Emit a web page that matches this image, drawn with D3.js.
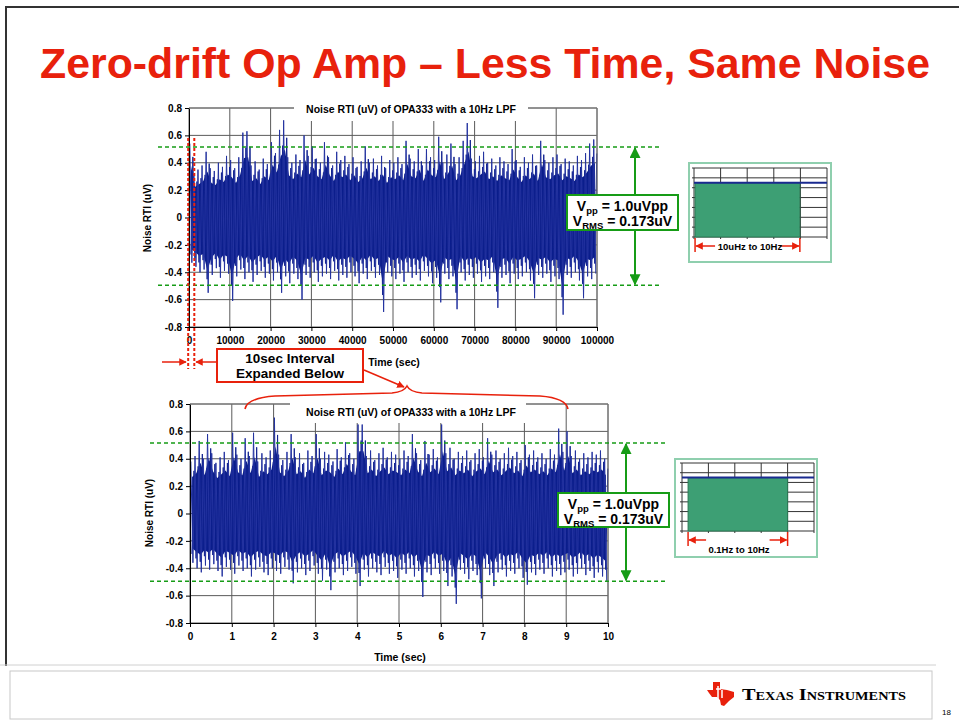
<!DOCTYPE html>
<html>
<head>
<meta charset="utf-8">
<script src="https://cdn.jsdelivr.net/npm/d3@7"></script>
<style>
  body { margin: 0; background: #fff; }
  svg { display: block; font-family: Arial, "Liberation Sans", sans-serif; }
</style>
</head>
<body>
<svg id="slide" width="959" height="723"></svg>
<script>
// ---- data ----
const yTicks = [-0.8, -0.6, -0.4, -0.2, 0, 0.2, 0.4, 0.6, 0.8];
const longTicks = [0, 10000, 20000, 30000, 40000, 50000, 60000, 70000, 80000, 90000, 100000];
const shortTicks = [0, 1, 2, 3, 4, 5, 6, 7, 8, 9, 10];

// 100 bins of 1000 s : upper / lower peak per bin (uV)
const longHi = [0.54,0.32,0.35,0.38,0.48,0.36,0.34,0.40,0.37,0.45,
  0.42,0.36,0.44,0.62,0.63,0.38,0.41,0.35,0.43,0.39,
  0.55,0.47,0.64,0.71,0.44,0.40,0.46,0.42,0.60,0.45,
  0.52,0.43,0.40,0.55,0.44,0.38,0.48,0.42,0.45,0.39,
  0.44,0.37,0.41,0.52,0.40,0.43,0.38,0.45,0.36,0.42,
  0.40,0.44,0.39,0.56,0.43,0.41,0.50,0.38,0.50,0.44,
  0.42,0.59,0.40,0.46,0.54,0.39,0.44,0.56,0.69,0.43,
  0.41,0.45,0.48,0.40,0.43,0.38,0.44,0.41,0.39,0.50,
  0.42,0.37,0.44,0.40,0.46,0.38,0.56,0.42,0.40,0.44,
  0.46,0.39,0.43,0.41,0.38,0.45,0.42,0.47,0.54,0.57];
const longLo = [-0.33,-0.36,-0.40,-0.38,-0.55,-0.42,-0.37,-0.44,-0.39,-0.41,
  -0.61,-0.43,-0.38,-0.45,-0.40,-0.47,-0.42,-0.39,-0.44,-0.41,
  -0.46,-0.40,-0.55,-0.43,-0.48,-0.41,-0.45,-0.60,-0.42,-0.44,
  -0.40,-0.47,-0.43,-0.41,-0.45,-0.39,-0.46,-0.42,-0.44,-0.40,
  -0.43,-0.48,-0.41,-0.45,-0.39,-0.44,-0.42,-0.69,-0.40,-0.43,
  -0.45,-0.41,-0.47,-0.40,-0.44,-0.42,-0.46,-0.39,-0.43,-0.48,
  -0.44,-0.62,-0.41,-0.45,-0.43,-0.67,-0.40,-0.46,-0.42,-0.44,
  -0.41,-0.47,-0.43,-0.45,-0.40,-0.66,-0.44,-0.42,-0.48,-0.41,
  -0.45,-0.43,-0.40,-0.46,-0.59,-0.42,-0.44,-0.41,-0.47,-0.43,
  -0.45,-0.71,-0.42,-0.44,-0.40,-0.46,-0.59,-0.43,-0.45,-0.41];

// 100 bins of 0.1 s
const shortHi = [0.38,0.42,0.53,0.40,0.58,0.44,0.37,0.41,0.45,0.39,
  0.59,0.43,0.40,0.55,0.42,0.59,0.38,0.44,0.41,0.46,
  0.70,0.43,0.39,0.45,0.58,0.41,0.44,0.37,0.46,0.42,
  0.58,0.40,0.45,0.43,0.38,0.47,0.41,0.52,0.44,0.40,
  0.65,0.65,0.42,0.46,0.39,0.44,0.48,0.41,0.45,0.43,
  0.40,0.46,0.42,0.58,0.44,0.39,0.53,0.43,0.47,0.41,
  0.65,0.44,0.48,0.40,0.45,0.42,0.46,0.39,0.44,0.47,
  0.41,0.55,0.43,0.46,0.40,0.44,0.48,0.42,0.45,0.39,
  0.50,0.43,0.46,0.41,0.44,0.40,0.47,0.43,0.62,0.45,
  0.60,0.42,0.46,0.40,0.44,0.41,0.45,0.43,0.46,0.40];
const shortLo = [-0.36,-0.40,-0.43,-0.38,-0.41,-0.37,-0.42,-0.46,-0.39,-0.41,
  -0.44,-0.38,-0.42,-0.40,-0.46,-0.41,-0.39,-0.43,-0.45,-0.40,
  -0.42,-0.44,-0.39,-0.41,-0.51,-0.43,-0.40,-0.45,-0.42,-0.38,
  -0.44,-0.49,-0.41,-0.56,-0.43,-0.40,-0.45,-0.42,-0.39,-0.44,
  -0.53,-0.41,-0.46,-0.40,-0.43,-0.45,-0.39,-0.44,-0.42,-0.47,
  -0.41,-0.44,-0.40,-0.46,-0.42,-0.61,-0.43,-0.45,-0.40,-0.44,
  -0.42,-0.53,-0.46,-0.66,-0.41,-0.44,-0.48,-0.42,-0.45,-0.62,
  -0.40,-0.45,-0.53,-0.43,-0.41,-0.46,-0.42,-0.44,-0.40,-0.47,
  -0.52,-0.43,-0.45,-0.41,-0.44,-0.40,-0.46,-0.42,-0.45,-0.43,
  -0.41,-0.46,-0.44,-0.40,-0.45,-0.42,-0.47,-0.43,-0.46,-0.50];

const vppLines = [0.515, -0.495];       // green dashed peak-to-peak markers
const intervalMarks = [-200, 1300];     // dotted "10 sec" window on the long record (drawn widened)
const insetCols = [0, 1, 2, 3, 4, 5];
const insetRows = [0, 1, 2, 3, 4, 5, 6, 7];
const insetFlat = 5.5;                  // flat noise density level
const insetBandTop = [0.04, 3.98];      // 10uHz to 10Hz
const insetBandBottom = [0.23, 4.0];    // 0.1Hz to 10Hz

const RED = "#e8210c", GREEN = "#169c16", NAVY = "#0a1d8c";

const svg = d3.select("#slide");
const defs = svg.append("defs");
function marker(id, color, size) {
  defs.append("marker").attr("id", id)
    .attr("viewBox", "0 0 10 10").attr("refX", 9).attr("refY", 5)
    .attr("markerWidth", size).attr("markerHeight", size).attr("orient", "auto-start-reverse")
    .attr("markerUnits", "strokeWidth")
    .append("path").attr("d", "M0,0L10,5L0,10Z").attr("fill", color);
}
marker("ag", GREEN, 5.5);
marker("ar", RED, 5);

// slide frame
svg.append("path").attr("d", "M6,666V7H959").attr("fill", "none").attr("stroke", "#333").attr("stroke-width", 2);
svg.append("line").attr("x1", 0).attr("x2", 936).attr("y1", 665).attr("y2", 665).attr("stroke", "#d0d0d0");
svg.append("rect").attr("x", 10).attr("y", 671).attr("width", 922).attr("height", 48)
  .attr("fill", "none").attr("stroke", "#c8c8c8");

// title
svg.append("text").attr("x", 40).attr("y", 78)
  .attr("textLength", 890).attr("lengthAdjust", "spacingAndGlyphs")
  .attr("font-size", 42).attr("font-weight", "bold").attr("fill", RED)
  .text("Zero-drift Op Amp \u2013 Less Time, Same Noise");

function panel(o) {
  const x = d3.scaleLinear().domain(o.domain).range([o.x0, o.x1]);
  const y = d3.scaleLinear().domain([-0.8, 0.8]).range([o.y1, o.y0]);
  const g = svg.append("g");

  // grid
  g.append("g").selectAll("line").data(o.ticks).join("line")
    .attr("x1", d => x(d)).attr("x2", d => x(d)).attr("y1", o.y0).attr("y2", o.y1)
    .attr("stroke", "#5a5a5a");
  g.append("g").selectAll("line").data(yTicks).join("line")
    .attr("x1", o.x0).attr("x2", o.x1).attr("y1", d => y(d)).attr("y2", d => y(d))
    .attr("stroke", "#5a5a5a");

  // noise trace
  const n = o.hi.length, w = (o.domain[1] - o.domain[0]) / n;
  const core = o.hi.map((h, i) => ({ t: o.domain[0] + (i + 0.5) * w, h: h * 0.7, l: o.lo[i] * 0.7 }));
  g.append("path").datum(core)
    .attr("d", d3.area().x(d => x(d.t)).y0(d => y(d.l)).y1(d => y(d.h)))
    .attr("fill", NAVY);
  const pts = [], pts2 = [];
  o.hi.forEach((h, i) => {
    pts.push([o.domain[0] + (i + 0.2) * w, h]);
    pts.push([o.domain[0] + (i + 0.7) * w, o.lo[i]]);
    pts2.push([o.domain[0] + (i + 0.45) * w, o.lo[i] * 0.82]);
    pts2.push([o.domain[0] + (i + 0.95) * w, h * 0.82]);
  });
  const line = d3.line().x(d => x(d[0])).y(d => y(d[1]));
  g.append("path").datum(pts2).attr("d", line)
    .attr("fill", "none").attr("stroke", "#12238f").attr("stroke-width", 1);
  g.append("path").datum(pts).attr("d", line)
    .attr("fill", "none").attr("stroke", "#2433a0").attr("stroke-width", 1);

  // axes
  const fmt = d => d === 0 ? "0" : d3.format(".1f")(d).replace("\u2212", "-");
  const ya = g.append("g").attr("transform", `translate(${o.x0},0)`)
    .call(d3.axisLeft(y).tickValues(yTicks).tickFormat(fmt).tickSize(4).tickSizeOuter(0));
  const xa = g.append("g").attr("transform", `translate(0,${o.y1})`)
    .call(d3.axisBottom(x).tickValues(o.ticks).tickFormat(d => d).tickSize(4).tickSizeOuter(0).tickPadding(6));
  [ya, xa].forEach(a => {
    a.selectAll("text").attr("font-size", 10).attr("font-weight", "bold").attr("fill", "#000")
      .attr("font-family", "Arial, 'Liberation Sans', sans-serif");
    a.select(".domain").attr("stroke", "#000");
    a.selectAll(".tick line").attr("stroke", "#000");
  });
  g.append("line").attr("x1", o.x0).attr("x2", o.x1).attr("y1", o.y0).attr("y2", o.y0).attr("stroke", "#777");
  g.append("line").attr("x1", o.x1).attr("x2", o.x1).attr("y1", o.y0).attr("y2", o.y1).attr("stroke", "#777");

  // chart title
  g.append("rect").attr("x", o.tb[0]).attr("y", o.tb[1]).attr("width", o.tb[2]).attr("height", o.tb[3]).attr("fill", "#fff");
  g.append("text").attr("x", o.tc[0]).attr("y", o.tc[1]).attr("text-anchor", "middle")
    .attr("font-size", 10.5).attr("font-weight", "bold").text("Noise RTI (uV) of OPA333 with a 10Hz LPF");
  g.append("text").attr("transform", `translate(${o.yl[0]},${o.yl[1]}) rotate(-90)`)
    .attr("text-anchor", "middle").attr("font-size", 10).attr("font-weight", "bold").text("Noise RTI (uV)");
  g.append("text").attr("x", o.xl[0]).attr("y", o.xl[1]).attr("text-anchor", "middle")
    .attr("font-size", 10.5).attr("font-weight", "bold").text("Time (sec)");

  // peak-to-peak markers
  g.append("g").selectAll("line").data(vppLines).join("line")
    .attr("x1", o.dash[0]).attr("x2", o.dash[1]).attr("y1", d => y(d)).attr("y2", d => y(d))
    .attr("stroke", GREEN).attr("stroke-width", 1.6).attr("stroke-dasharray", "4,3");
  g.append("line").attr("x1", o.arrowX).attr("x2", o.arrowX)
    .attr("y1", y(vppLines[0]) + 1).attr("y2", y(vppLines[1]) - 1)
    .attr("stroke", GREEN).attr("stroke-width", 2)
    .attr("marker-start", "url(#ag)").attr("marker-end", "url(#ag)");
  const b = o.box;
  g.append("rect").attr("x", b[0]).attr("y", b[1]).attr("width", b[2]).attr("height", b[3])
    .attr("fill", "#fff").attr("stroke", GREEN).attr("stroke-width", 2);
  const cx = b[0] + b[2] / 2;
  const t1 = g.append("text").attr("x", cx).attr("y", b[1] + 16).attr("text-anchor", "middle")
    .attr("font-size", 14).attr("font-weight", "bold");
  t1.append("tspan").text("V");
  t1.append("tspan").attr("font-size", 9.5).attr("dy", 3).text("pp");
  t1.append("tspan").attr("dy", -3).text(" = 1.0uVpp");
  const t2 = g.append("text").attr("x", cx).attr("y", b[1] + 31).attr("text-anchor", "middle")
    .attr("font-size", 14).attr("font-weight", "bold");
  t2.append("tspan").text("V");
  t2.append("tspan").attr("font-size", 9.5).attr("dy", 3).text("RMS");
  t2.append("tspan").attr("dy", -3).text(" = 0.173uV");
  return { x, y };
}

const topPanel = panel({
  domain: [0, 100000], ticks: longTicks, hi: longHi, lo: longLo,
  x0: 189, x1: 597, y0: 108, y1: 327,
  tb: [294, 99, 234, 22], tc: [411, 113], yl: [151, 218], xl: [394, 366],
  dash: [158, 660], arrowX: 635, box: [567, 195, 111, 35]
});
const botPanel = panel({
  domain: [0, 10], ticks: shortTicks, hi: shortHi, lo: shortLo,
  x0: 190, x1: 608, y0: 404, y1: 623,
  tb: [290, 396, 236, 27], tc: [411, 416], yl: [153, 513], xl: [400, 661],
  dash: [150, 668], arrowX: 626, box: [558, 493, 111, 34]
});

// noise density insets
function inset(o) {
  const g = svg.append("g");
  g.append("rect").attr("x", o.frame[0]).attr("y", o.frame[1]).attr("width", o.frame[2]).attr("height", o.frame[3])
    .attr("fill", "#fff").attr("stroke", "#8fcfae").attr("stroke-width", 2);
  const x = d3.scaleLinear().domain([0, 5]).range([o.gx0, o.gx1]);
  const y = d3.scaleLinear().domain([0, 7]).range([o.gy1, o.gy0]);
  g.append("g").selectAll("line").data(insetCols).join("line")
    .attr("x1", d => x(d)).attr("x2", d => x(d)).attr("y1", o.gy0).attr("y2", o.gy1 + 2).attr("stroke", "#333");
  g.append("g").selectAll("line").data(insetRows).join("line")
    .attr("x1", x(0) - 2).attr("x2", x(5)).attr("y1", d => y(d)).attr("y2", d => y(d)).attr("stroke", "#333");
  g.append("rect").attr("x", x(o.band[0])).attr("y", y(insetFlat))
    .attr("width", x(o.band[1]) - x(o.band[0])).attr("height", y(0) - y(insetFlat))
    .attr("fill", "#3d9f74").attr("stroke", "#2a7a55");
  g.append("line").attr("x1", x(0)).attr("x2", x(5)).attr("y1", y(insetFlat)).attr("y2", y(insetFlat))
    .attr("stroke", "#1a2a90").attr("stroke-width", 2);
  const xl = x(o.band[0]), xr = x(o.band[1]), ly = o.labelY;
  g.append("g").selectAll("line").data([xl, xr]).join("line")
    .attr("x1", d => d).attr("x2", d => d).attr("y1", y(0) + 1).attr("y2", ly + 6)
    .attr("stroke", RED).attr("stroke-width", 1.5);
  g.append("line").attr("x1", xl + o.arrowLen).attr("x2", xl + 1).attr("y1", ly).attr("y2", ly)
    .attr("stroke", RED).attr("stroke-width", 1.5).attr("marker-end", "url(#ar)");
  g.append("line").attr("x1", xr - o.arrowLen).attr("x2", xr - 1).attr("y1", ly).attr("y2", ly)
    .attr("stroke", RED).attr("stroke-width", 1.5).attr("marker-end", "url(#ar)");
  g.append("text").attr("x", o.textX).attr("y", o.textY).attr("text-anchor", "middle")
    .attr("font-size", 9.5).attr("font-weight", "bold").text(o.label);
}
inset({ frame: [689, 163, 142, 99], gx0: 694, gx1: 827, gy0: 168, gy1: 237,
  band: insetBandTop, labelY: 246, textX: 750, textY: 250, arrowLen: 20, label: "10uHz to 10Hz" });
inset({ frame: [675, 459, 142, 98], gx0: 682, gx1: 814, gy0: 463, gy1: 531,
  band: insetBandBottom, labelY: 540, textX: 739, textY: 553, arrowLen: 18, label: "0.1Hz to 10Hz" });

// 10 s interval annotation
svg.append("g").selectAll("line").data(intervalMarks).join("line")
  .attr("x1", d => topPanel.x(d)).attr("x2", d => topPanel.x(d))
  .attr("y1", 138).attr("y2", 369)
  .attr("stroke", RED).attr("stroke-width", 2).attr("stroke-dasharray", "3,2");
svg.append("line").attr("x1", 162).attr("x2", 186).attr("y1", 362).attr("y2", 362)
  .attr("stroke", RED).attr("stroke-width", 1.5).attr("marker-end", "url(#ar)");
svg.append("line").attr("x1", 217).attr("x2", 196).attr("y1", 362).attr("y2", 362)
  .attr("stroke", RED).attr("stroke-width", 1.5).attr("marker-end", "url(#ar)");
svg.append("rect").attr("x", 217).attr("y", 349).attr("width", 146).attr("height", 33)
  .attr("fill", "#fff").attr("stroke", RED).attr("stroke-width", 2);
svg.append("text").attr("x", 290).attr("y", 363).attr("text-anchor", "middle")
  .attr("font-size", 13.5).attr("font-weight", "bold").text("10sec Interval");
svg.append("text").attr("x", 290).attr("y", 378).attr("text-anchor", "middle")
  .attr("font-size", 13.5).attr("font-weight", "bold").text("Expanded Below");
svg.append("line").attr("x1", 364).attr("x2", 404).attr("y1", 370).attr("y2", 387)
  .attr("stroke", RED).attr("stroke-width", 1.5).attr("marker-end", "url(#ar)");
svg.append("path")
  .attr("d", "M245,409 Q247,398 275,396 L392,393 Q404,392 407,386 Q410,392 422,393 L540,396 Q566,398 568,409")
  .attr("fill", "none").attr("stroke", RED).attr("stroke-width", 1.6);

// footer logo
const logo = svg.append("g");
logo.append("path")
  .attr("d", "M713,682 L720,682 L720,689 L727,690 L734,692 L734,697 L729,701 L724,706 L721,705 L720,700 L717,697 L712,697 L709,693 L707,690 L713,690 Z")
  .attr("fill", RED);
logo.append("path").attr("d", "M718,686 V700 M722,690 V698 M716,689 H721")
  .attr("stroke", "#fff").attr("stroke-width", 1.5);
logo.append("text").attr("x", 742).attr("y", 700)
  .attr("font-family", "'Liberation Serif', 'DejaVu Serif', serif").attr("font-size", 17)
  .attr("font-weight", "bold").attr("font-variant", "small-caps")
  .attr("textLength", 164).attr("lengthAdjust", "spacingAndGlyphs")
  .text("Texas Instruments");
svg.append("text").attr("x", 942).attr("y", 715).attr("font-size", 8).text("18");
</script>
</body>
</html>
